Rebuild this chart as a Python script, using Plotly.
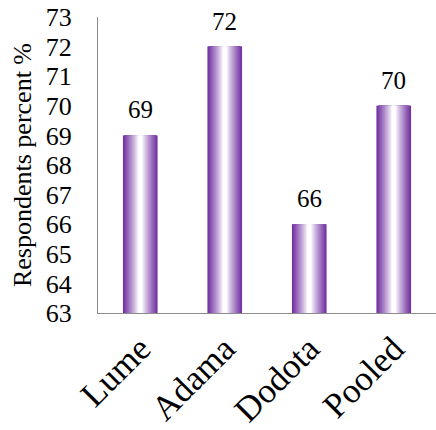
import plotly.graph_objects as go

categories = ["Lume", "Adama", "Dodota", "Pooled"]
values = [69, 72, 66, 70]
y_ticks = list(range(63, 74))

PURPLE = (112, 48, 160)
WHITE = (255, 255, 255)
BAR_WIDTH = 0.41
N_LAYERS = 26
SERIF = "Times New Roman"

def mix(t):
    t = max(0.0, min(1.0, t))
    return "rgb(%d,%d,%d)" % tuple(round(WHITE[i] + (PURPLE[i] - WHITE[i]) * t) for i in range(3))

fig = go.Figure()
for k in range(N_LAYERS):
    frac = 1 - k / N_LAYERS
    t = ((frac - 0.12) / 0.88) ** 0.85 if frac > 0.12 else 0
    fig.add_trace(go.Bar(
        x=categories, y=values, width=BAR_WIDTH * frac,
        marker=dict(color=mix(t), line=dict(width=0)),
        showlegend=False, hoverinfo="skip",
    ))

for c, v in zip(categories, values):
    fig.add_annotation(x=c, y=v, text=str(v), showarrow=False, yanchor="bottom",
                       yshift=10, font=dict(family=SERIF, size=25, color="#000"))

fig.update_layout(
    barmode="overlay",
    width=436, height=430,
    margin=dict(l=98, r=0, t=17, b=117),
    plot_bgcolor="white", paper_bgcolor="white",
    font=dict(family=SERIF, color="#000"),
    xaxis=dict(
        showline=True, linecolor="#8c8c8c", linewidth=1.3, showgrid=False, automargin=False,
        tickangle=-45, tickfont=dict(family=SERIF, size=35, color="#000"), ticks="",
        ticklabelstandoff=0,
    ),
    yaxis=dict(
        range=[63, 73], tickvals=y_ticks, showline=True, linecolor="#8c8c8c", linewidth=1.3,
        showgrid=False, zeroline=False, automargin=False,
        tickfont=dict(family=SERIF, size=26, color="#000"),
        ticks="", ticklabelstandoff=20,
        title=dict(text="Respondents percent %", font=dict(family=SERIF, size=26, color="#000"),
                   standoff=6),
    ),
)

fig.write_html("out.html")
